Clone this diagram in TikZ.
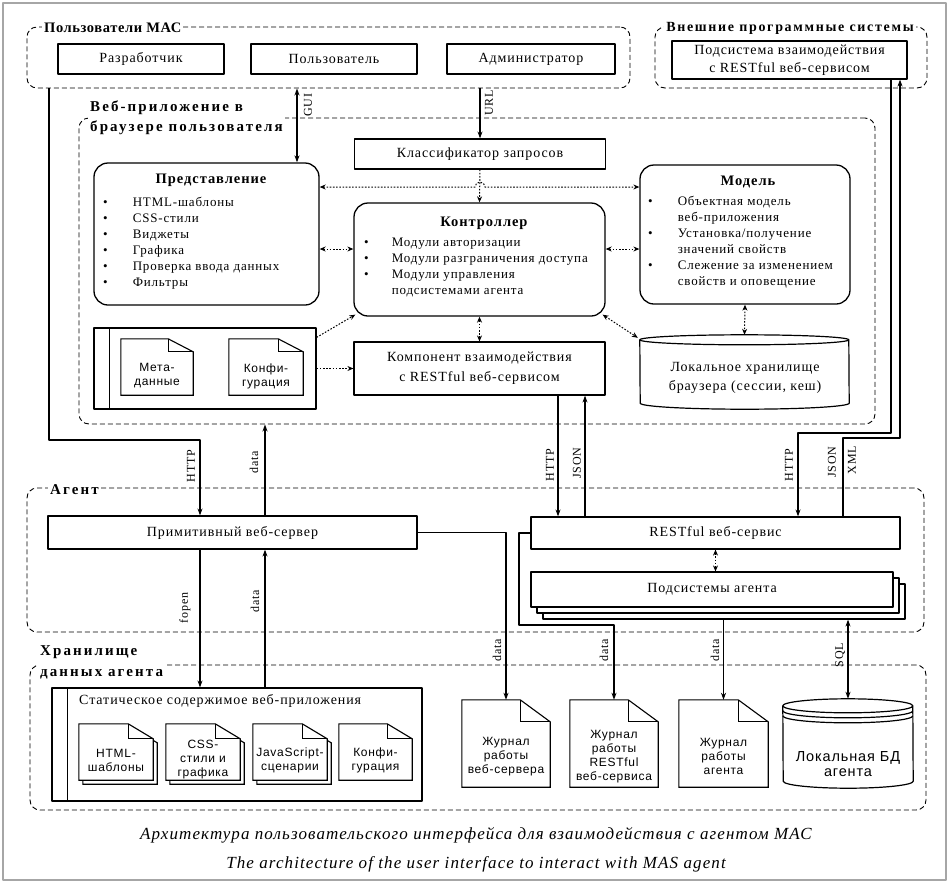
\documentclass[tikz,border=0pt]{standalone}
\usepackage{fontspec}
\setmainfont[LetterSpace=6.5]{Liberation Serif}
\newfontfamily\arialf[LetterSpace=6]{Liberation Sans}
\newfontfamily\widebf[LetterSpace=14]{Liberation Serif}
\newfontfamily\xwidebf[LetterSpace=12]{Liberation Serif}
\newfontfamily\normbf[LetterSpace=4]{Liberation Serif}
\usetikzlibrary{arrows.meta}

\newcommand\fsz[2]{\fontsize{#1pt}{#2pt}\selectfont}
% folded-corner document outline
\def\foldw{25pt}\def\foldh{15pt}\def\txtdy{8pt}
\newcommand\docpath[3]{([xshift=#2,yshift=#3]#1.north west) -- ([xshift=#2-\foldw,yshift=#3]#1.north east) -- ([xshift=#2,yshift=#3-\foldh]#1.north east) -- ([xshift=#2,yshift=#3]#1.south east) -- ([xshift=#2,yshift=#3]#1.south west) -- cycle}
\newcommand\docshape[6]{%
  \path (#2) node[minimum width=#3, minimum height=#4, inner sep=0pt] (#1) {};
  \ifnum#5=1 \draw[docline, fill=white] \docpath{#1}{4pt}{-4pt}; \fi
  \draw[docline, fill=white] \docpath{#1}{0pt}{0pt};
  \draw[docline] ([xshift=-\foldw]#1.north east) |- ([yshift=-\foldh]#1.north east);
  \node[docfont] at ([yshift=-\txtdy]#1.center) {#6};}

\begin{document}
\begin{tikzpicture}[x=1pt, y=-1pt, line join=round,
    box/.style={draw, line width=1.2pt, fill=white, inner sep=0pt, font=\fsz{14}{19}, align=center},
    rbox/.style={draw, line width=1.3pt, rounded corners=14pt, inner sep=0pt},
    pkgbox/.style={draw, line width=1.2pt, inner sep=0pt},
    grp/.style={draw, line width=0.9pt, dash pattern=on 5pt off 3pt, rounded corners=10pt, inner sep=0pt},
    glabel/.style={fill=white, inner sep=2pt, font=\widebf\bfseries\fsz{15}{20}, align=left},
    arr/.style={line width=1.1pt, -{Stealth[length=7pt,width=5pt]}},
    darr/.style={line width=1.1pt, {Stealth[length=7pt,width=5pt]}-{Stealth[length=7pt,width=5pt]}},
    dot/.style={line width=1pt, dash pattern=on 1.6pt off 1.6pt, -{Stealth[length=6pt,width=5pt]}},
    ddot/.style={line width=1pt, dash pattern=on 1.6pt off 1.6pt, {Stealth[length=6pt,width=5pt]}-{Stealth[length=6pt,width=5pt]}},
    lbl/.style={rotate=90, font=\fsz{12}{12}, inner sep=1pt},
    docline/.style={line width=1.1pt, line join=miter},
    docfont/.style={font=\arialf\fsz{12}{14}, align=center},
    title/.style={font=\bfseries\fsz{14.5}{16}},
    items/.style={font=\fsz{13}{16}, anchor=north west, inner sep=0pt}]
\useasboundingbox (0,0) rectangle (951,884);
\draw[gray!70, line width=1.5pt] (3,3) rectangle (946,880);

% groups
\node[grp, minimum width=603, minimum height=61] (users) at (328.5,57.5) {};
\node[glabel, anchor=west, font=\normbf\bfseries\fsz{14.5}{20}] at (42,28) {Пользователи МАС};
\node[grp, minimum width=272, minimum height=61] (extgrp) at (791,57.5) {};
\node[glabel, font=\xwidebf\bfseries\fsz{14}{16}] at (790,28) {Внешние программные системы};
\node[grp, minimum width=796, minimum height=306] (web) at (477,271) {};
\node[glabel, anchor=west] at (88,118) {Веб-приложение в\\браузере пользователя};
\node[grp, minimum width=897, minimum height=144] (agent) at (475.5,560) {};
\node[glabel, anchor=west] at (48,490) {Агент};
\node[grp, minimum width=896, minimum height=145] (store) at (478,737.5) {};
\node[glabel, anchor=west, font=\widebf\bfseries\fsz{15}{21}] at (38,662) {Хранилище\\данных агента};

% users of MAS
\node[box, minimum width=166, minimum height=30] (dev) at (141,59) {Разработчик};
\node[box, minimum width=166, minimum height=30] (usr) at (334,59) {Пользователь};
\node[box, minimum width=168, minimum height=30] (adm) at (531,59) {Администратор};
\node[box, minimum width=235, minimum height=38, font=\fsz{14}{18}] (extsub) at (789.5,60) {Подсистема взаимодействия\\с RESTful веб-сервисом};

% web application
\node[box, minimum width=251, minimum height=30] (cls) at (480,154) {Классификатор запросов};
\node[rbox, minimum width=225, minimum height=142] (pred) at (206.5,234) {};
\node[title] at (211,180) {Представление};
\node[items] (predlist) at (103,195) {\begin{tabular}{@{}l@{\hspace{25pt}}l@{}}
  \textbullet & HTML-шаблоны\\ \textbullet & CSS-стили\\ \textbullet & Виджеты\\
  \textbullet & Графика\\ \textbullet & Проверка ввода данных\\ \textbullet & Фильтры\end{tabular}};
\node[rbox, minimum width=251, minimum height=113] (ctrl) at (479.5,259.5) {};
\node[title] at (484,223) {Контроллер};
\node[items] (ctrllist) at (364,235) {\begin{tabular}{@{}l@{\hspace{23pt}}l@{}}
  \textbullet & Модули авторизации\\ \textbullet & Модули разграничения доступа\\
  \textbullet & Модули управления\\ & подсистемами агента\end{tabular}};
\node[rbox, minimum width=210, minimum height=139] (model) at (745,234.5) {};
\node[title] at (748,182) {Модель};
\node[items] (modellist) at (648,194) {\begin{tabular}{@{}l@{\hspace{25pt}}l@{}}
  \textbullet & Объектная модель\\ & веб-приложения\\ \textbullet & Установка/получение\\
  & значений свойств\\ \textbullet & Слежение за изменением\\ & свойств и оповещение\end{tabular}};
\node[box, minimum width=251, minimum height=53, font=\fsz{14}{20}] (comp) at (479.5,368.5) {Компонент взаимодействия\\с RESTful веб-сервисом};

% browser storage
\path (744.5,372) node[minimum width=209, minimum height=74, inner sep=0pt] (stor) {};
\draw[line width=1.2pt, fill=white] ([yshift=-5pt]stor.north west) arc[start angle=180, end angle=0, x radius=104.5pt, y radius=5pt]
  -- ([yshift=6pt]stor.south east) arc[start angle=0, end angle=-180, x radius=104.5pt, y radius=6pt] -- cycle;
\draw[line width=1.2pt] ([yshift=-5pt]stor.north west) arc[start angle=180, end angle=360, x radius=104.5pt, y radius=5pt];
\node[font=\fsz{14}{19}, align=center] at (745,378) {Локальное хранилище\\браузера (сессии, кеш)};

% metadata package
\node[pkgbox, minimum width=222, minimum height=81] (pkg1) at (205,368.5) {};
\draw[line width=1.2pt] ([xshift=16pt]pkg1.north west) -- ([xshift=16pt]pkg1.south west);
\def\foldh{13pt}\def\txtdy{9pt}
\docshape{meta}{157,367}{72}{56}{0}{Мета-\\данные}
\docshape{conf}{266,367}{74}{56}{0}{Конфи-\\гурация}

% agent
\node[box, minimum width=369, minimum height=33] (prim) at (232.5,532.5) {Примитивный веб-сервер};
\node[box, minimum width=369, minimum height=32] (rest) at (715.5,533) {RESTful веб-сервис};
\node[box, minimum width=362, minimum height=35] (subs3) at (724,601.5) {};
\node[box, minimum width=362, minimum height=35] (subs2) at (718,595.5) {};
\node[box, minimum width=362, minimum height=35] (subs) at (712,589.5) {Подсистемы агента};

% agent data storage
\node[pkgbox, minimum width=370, minimum height=113] (spkg) at (237,744.5) {};
\draw[line width=1.2pt] ([xshift=16pt]spkg.north west) -- ([xshift=16pt]spkg.south west);
\node[anchor=west, inner sep=0pt, font=\fsz{14}{16}] (stitle) at (79,701) {Статическое содержимое веб-приложения};
\def\foldh{15pt}\def\txtdy{8pt}
\docshape{html}{116,752}{74}{56}{1}{HTML-\\шаблоны}
\docshape{css}{203,752}{74}{56}{1}{CSS-\\стили и\\графика}
\docshape{js}{290,752}{74}{56}{1}{JavaScript-\\сценарии}
\docshape{conf2}{375.5,752}{73}{56}{0}{Конфи-\\гурация}
\def\foldw{30pt}\def\foldh{22pt}\def\txtdy{13pt}
\docshape{wlog}{506,743.5}{88}{87}{0}{Журнал\\работы\\веб-сервера}
\docshape{rlog}{614,743.5}{88}{87}{0}{Журнал\\работы\\RESTful\\веб-сервиса}
\docshape{alog}{723.5,743.5}{89}{87}{0}{Журнал\\работы\\агента}

% local DB
\path (848,743.5) node[minimum width=130, minimum height=89, inner sep=0pt] (db) {};
\draw[line width=1.2pt, fill=white] ([yshift=-7pt]db.north west) arc[start angle=180, end angle=0, x radius=65pt, y radius=7pt]
  -- ([yshift=7pt]db.south east) arc[start angle=0, end angle=-180, x radius=65pt, y radius=7pt] -- cycle;
\foreach \dy in {7,12,17}
  \draw[line width=1.2pt] ([yshift=-\dy pt]db.north west) arc[start angle=180, end angle=360, x radius=65pt, y radius=7pt];
\node[font=\arialf\fsz{14.5}{15}, align=center] at (848,764) {Локальная БД\\агента};

% coordinates for connectors
\coordinate (xgui) at (297,0);
\coordinate (xl) at (49,0);
\coordinate (hbend) at (200,440);
\coordinate (xdata) at (265,0);
\coordinate (xh1) at (558,0);
\coordinate (xj1) at (585,0);
\coordinate (xe1) at (891,0);
\coordinate (eb1) at (798,433);
\coordinate (xe2) at (900,0);
\coordinate (eb2) at (843,438);
\coordinate (rb) at (519,625);
\coordinate (hop) at (480,187);
\coordinate (hy) at (0,249);

% solid connectors
\draw[darr] (users.south -| xgui) -- (pred.north -| xgui);
\node[lbl] at (308,105) {GUI};
\draw[arr] (users.south -| cls.north) -- (cls.north);
\node[lbl] at (489,103) {URL};
\draw[arr] (users.south -| xl) |- (hbend) -- (prim.north -| hbend);
\node[lbl] at (191,466) {HTTP};
\draw[arr] (prim.north -| xdata) -- (web.south -| xdata);
\node[lbl] at (254,462) {data};
\draw[arr] (comp.south -| xh1) -- (rest.north -| xh1);
\node[lbl] at (550,465) {HTTP};
\draw[arr] (rest.north -| xj1) -- (comp.south -| xj1);
\node[lbl] at (577,463) {JSON};
\draw[arr] (extsub.south -| xe1) |- (eb1) -- (rest.north -| eb1);
\node[lbl] at (789,465) {HTTP};
\draw[arr] (rest.north -| eb2) -- (eb2) -| (extsub.south -| xe2);
\node[lbl] at (832,462) {JSON};
\node[lbl] at (852,460) {XML};
\draw[arr] (prim.east) -| (wlog.north);
\node[lbl] at (497,650) {data};
\draw[arr] (rest.west) -| (rb) -| (rlog.north);
\node[lbl] at (604,650) {data};
\draw[arr] (subs3.south -| alog.north) -- (alog.north);
\node[lbl] at (715,650) {data};
\draw[darr] (subs3.south -| db.north) -- (db.north);
\node[lbl] at (840,655) {SQL};
\draw[arr] (prim.south -| hbend) -- (spkg.north -| hbend);
\node[lbl] at (185,608) {fopen};
\draw[arr] (spkg.north -| xdata) -- (prim.south -| xdata);
\node[lbl] at (255,601) {data};

% dotted connectors
\draw[dot] (cls.south) -- (ctrl.north);
\draw[ddot] (pred.east |- hop) -- ([xshift=-5pt]hop) arc[start angle=180, end angle=0, radius=5pt] -- (model.west |- hop);
\draw[ddot] (pred.east |- hy) -- (ctrl.west |- hy);
\draw[ddot] (ctrl.east |- hy) -- (model.west |- hy);
\draw[dot] ([yshift=-10pt]pkg1.north east) -- ([xshift=2pt,yshift=2pt]ctrl.south west);
\draw[dot] (pkg1.east |- comp.west) -- (comp.west);
\draw[ddot] (ctrl.south) -- (comp.north);
\draw[ddot] ([xshift=-3pt,yshift=2pt]ctrl.south east) -- ([xshift=-2pt,yshift=-3pt]stor.north west);
\draw[ddot] (model.south) -- (stor.north);
\draw[ddot] (rest.south) -- (rest.south |- subs.north);

% caption
\node[font=\itshape\fsz{17}{20}] (cap1) at (476,835) {Архитектура пользовательского интерфейса для взаимодействия с агентом МАС};
\node[font=\itshape\fsz{17}{20}] (cap2) at (476,864) {The architecture of the user interface to interact with MAS agent};
\end{tikzpicture}
\end{document}
